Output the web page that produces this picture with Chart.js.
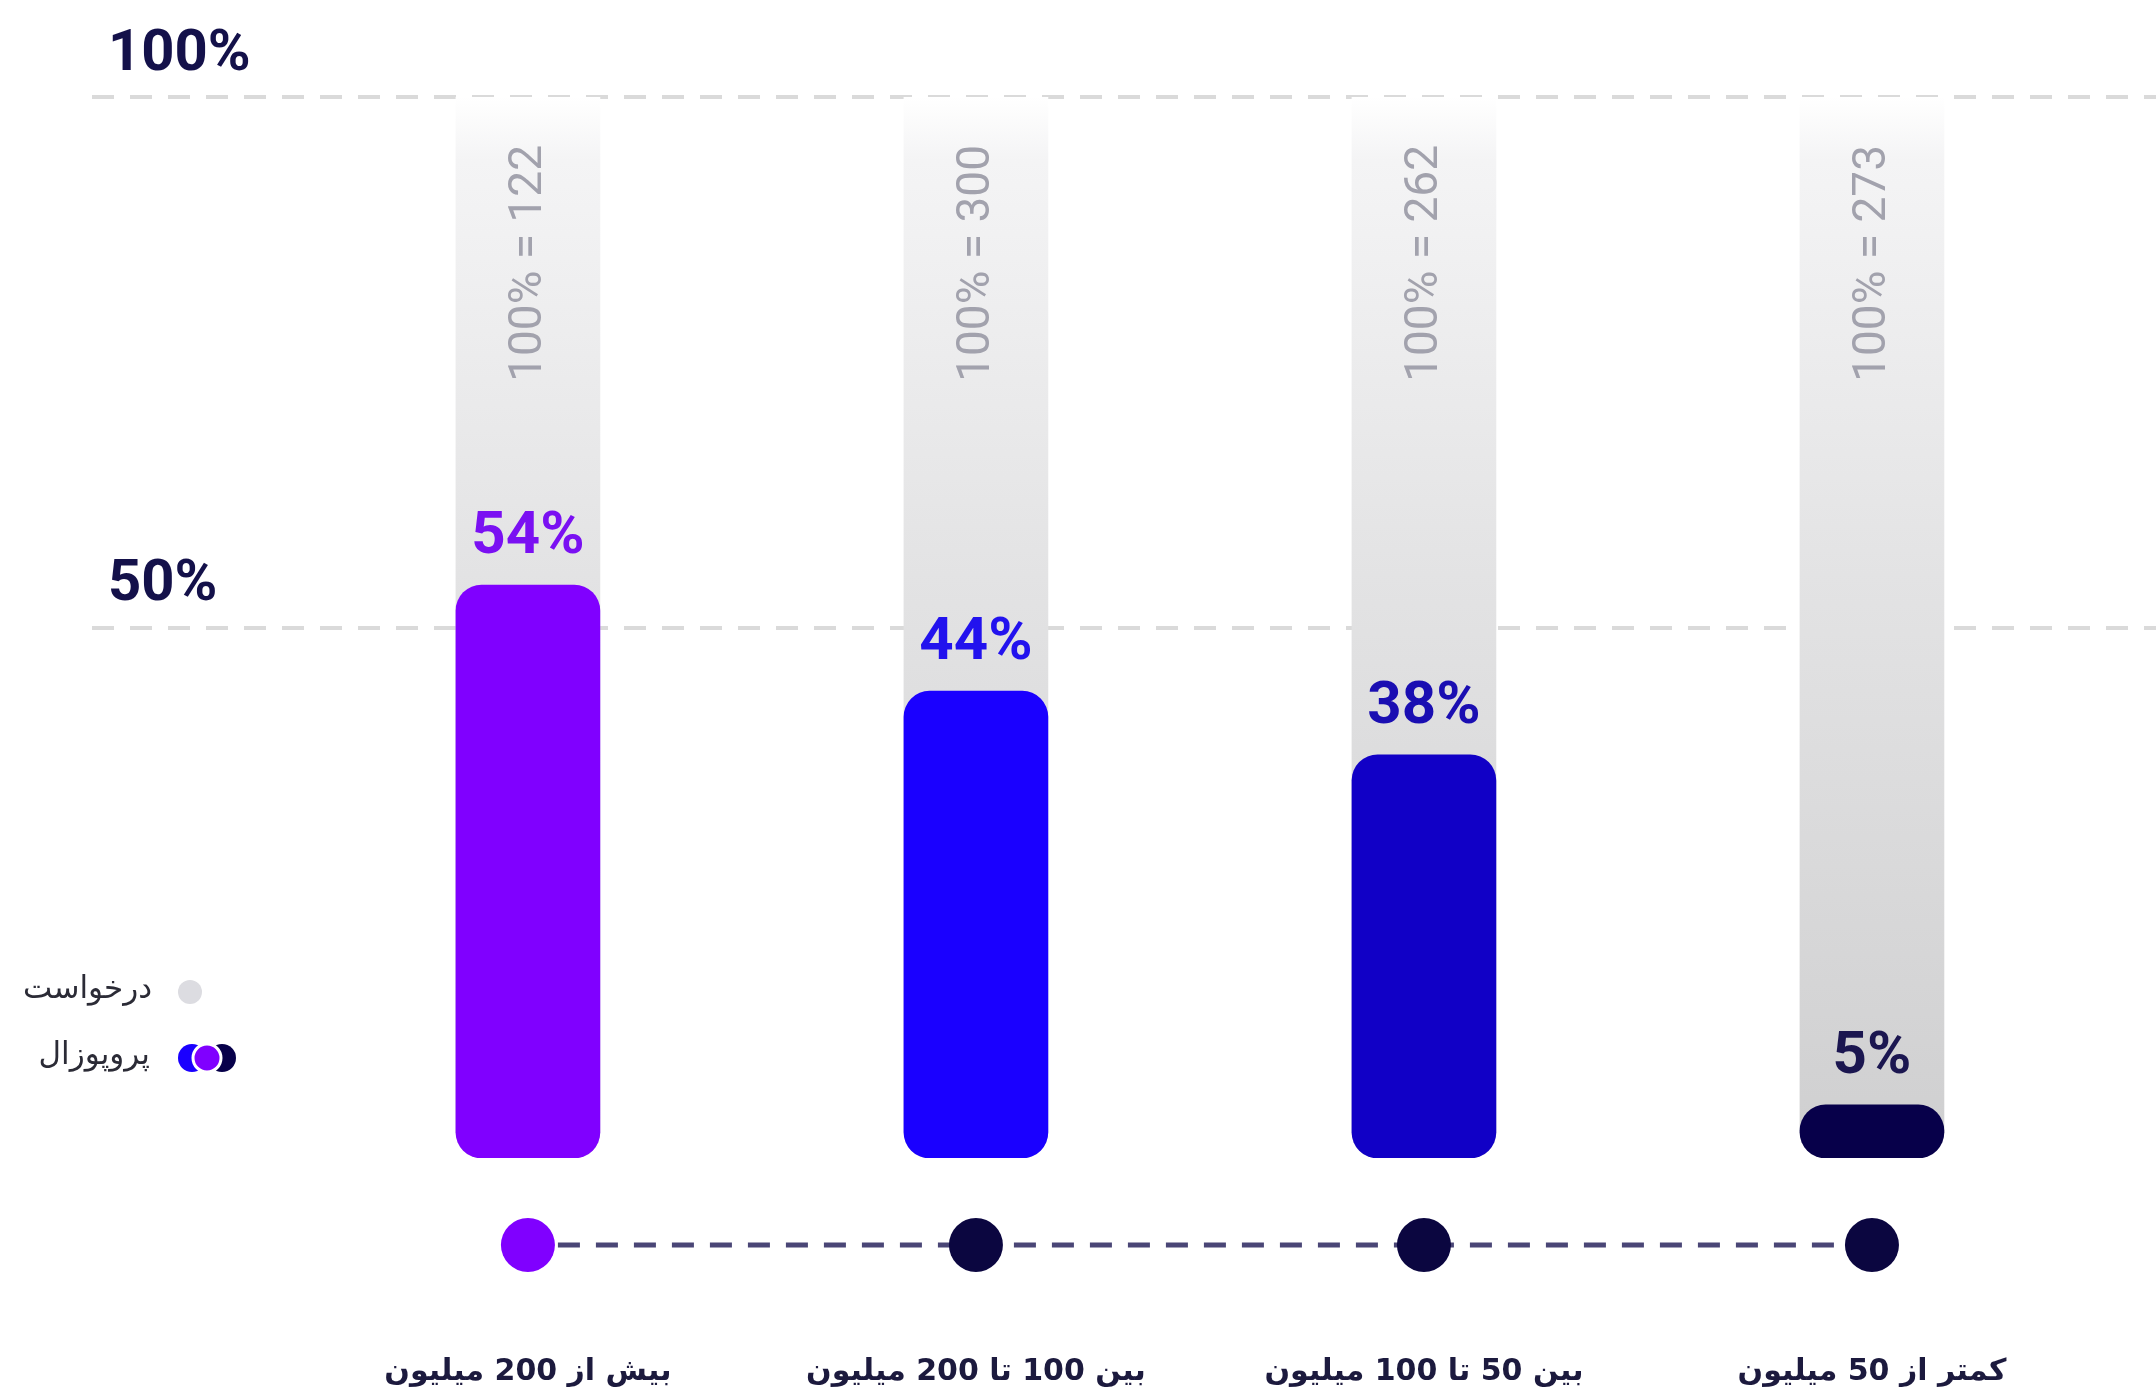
<!DOCTYPE html>
<html>
<head>
<meta charset="utf-8">
<script src="https://cdn.jsdelivr.net/npm/chart.js@4"></script>
<style>
  html, body { margin: 0; padding: 0; background: #ffffff; }
  #wrap { width: 2156px; height: 1391px; position: relative; }
  canvas { display: block; }
</style>
</head>
<body>
<div id="wrap"><canvas id="c" width="2156" height="1391"></canvas></div>
<script>
// ---- data ----
const categories = ['بیش از 200 میلیون', 'بین 100 تا 200 میلیون', 'بین 50 تا 100 میلیون', 'کمتر از 50 میلیون'];
const proposalShare = [54, 44, 38, 5];          // %
const requestShare = [100, 100, 100, 100];      // % (full base)
const requestTotals = [122, 300, 262, 273];     // n at 100%
const yTickValues = [50, 100];
const legendLabels = ['درخواست', 'پروپوزال'];

// ---- styles ----
const barColors = ['#8000ff', '#1a00ff', '#1100c6', '#07004a'];
const labelColors = ['#7a10f2', '#2212ee', '#1a0eb2', '#1b1650'];
const dotColors = { highlight: '#8000ff', normal: '#0b0640' };

function grayGradient(context) {
  const chart = context.chart;
  const area = chart.chartArea;
  if (!area) return '#e0e0e0';
  const g = chart.ctx.createLinearGradient(0, area.top, 0, area.bottom);
  g.addColorStop(0, 'rgba(255,255,255,1)');
  g.addColorStop(0.06, '#f4f4f5');
  g.addColorStop(0.45, '#e3e3e4');
  g.addColorStop(1, '#cfcfd0');
  return g;
}

const overlay = {
  id: 'overlay',
  afterDatasetsDraw(chart) {
    const ctx = chart.ctx;
    const metaBars = chart.getDatasetMeta(0);
    const yScale = chart.scales.y;
    const area = chart.chartArea;

    ctx.save();
    // value labels above bars
    ctx.textAlign = 'center';
    ctx.textBaseline = 'middle';
    ctx.font = 'bold 60px Roboto';
    metaBars.data.forEach((bar, i) => {
      ctx.fillStyle = labelColors[i];
      ctx.fillText(proposalShare[i] + '%', bar.x, bar.y - 47);
    });

    // rotated totals
    ctx.font = '46px Roboto';
    ctx.fillStyle = '#a2a2ad';
    const topY = yScale.getPixelForValue(100) + 48;
    metaBars.data.forEach((bar, i) => {
      ctx.save();
      ctx.translate(bar.x + 2, topY);
      ctx.rotate(-Math.PI / 2);
      ctx.textAlign = 'right';
      ctx.textBaseline = 'middle';
      ctx.fillText('100% = ' + requestTotals[i], 0, 0);
      ctx.restore();
    });

    // timeline
    const ty = area.bottom + 87;
    const xs = metaBars.data.map(b => b.x);
    ctx.strokeStyle = '#4a4676';
    ctx.lineWidth = 5;
    ctx.setLineDash([22, 16]);
    ctx.beginPath();
    ctx.moveTo(xs[0] + 30, ty);
    ctx.lineTo(xs[xs.length - 1], ty);
    ctx.stroke();
    ctx.setLineDash([]);
    const maxIdx = proposalShare.indexOf(Math.max(...proposalShare));
    xs.forEach((x, i) => {
      ctx.beginPath();
      ctx.arc(x, ty, 27, 0, Math.PI * 2);
      ctx.fillStyle = i === maxIdx ? dotColors.highlight : dotColors.normal;
      ctx.fill();
    });

    // legend
    ctx.font = '31px "DejaVu Sans"';
    ctx.textAlign = 'right';
    ctx.textBaseline = 'middle';
    ctx.fillStyle = '#2b2b36';
    ctx.fillText(legendLabels[0], 152, 990);
    ctx.fillText(legendLabels[1], 150, 1056);
    ctx.beginPath();
    ctx.arc(190, 992, 12, 0, Math.PI * 2);
    ctx.fillStyle = '#dcdce1';
    ctx.fill();
    ctx.beginPath();
    ctx.arc(192, 1058, 14, 0, Math.PI * 2);
    ctx.fillStyle = barColors[1];
    ctx.fill();
    ctx.beginPath();
    ctx.arc(222, 1058, 14, 0, Math.PI * 2);
    ctx.fillStyle = barColors[3];
    ctx.fill();
    ctx.beginPath();
    ctx.arc(207, 1058, 14, 0, Math.PI * 2);
    ctx.fillStyle = barColors[0];
    ctx.fill();
    ctx.lineWidth = 3;
    ctx.strokeStyle = '#ffffff';
    ctx.stroke();
    ctx.restore();
  }
};

new Chart(document.getElementById('c'), {
  type: 'bar',
  data: {
    datasets: [
      {
        label: legendLabels[1],
        data: proposalShare.map((v, i) => ({ x: i, y: v })),
        backgroundColor: barColors,
        borderRadius: 26,
        borderSkipped: false,
        barThickness: 144,
        grouped: false,
        order: 0
      },
      {
        label: legendLabels[0],
        data: requestShare.map((v, i) => ({ x: i, y: v })),
        backgroundColor: grayGradient,
        borderRadius: { topLeft: 0, topRight: 0, bottomLeft: 26, bottomRight: 26 },
        borderSkipped: false,
        barThickness: 144,
        grouped: false,
        order: 1
      }
    ]
  },
  options: {
    responsive: false,
    animation: false,
    layout: { padding: { top: 97, left: 92, right: 0, bottom: 0 } },
    plugins: { legend: { display: false }, tooltip: { enabled: false } },
    scales: {
      x: {
        type: 'linear',
        offset: false,
        min: -0.973,
        max: 3.634,
        grid: { display: false },
        border: { display: false },
        afterFit: a => { a.height = 233; a.paddingLeft = 0; a.paddingRight = 0; },
        ticks: {
          stepSize: 1,
          autoSkip: false,
          maxRotation: 0,
          minRotation: 0,
          padding: 188,
          color: '#1c1a3e',
          font: { family: 'DejaVu Sans', size: 30, weight: 'bold' },
          callback: v => (Number.isInteger(v) && categories[v] !== undefined) ? categories[v] : null
        }
      },
      y: {
        min: 0,
        max: 100,
        afterBuildTicks: a => { a.ticks = yTickValues.map(v => ({ value: v })); },
        afterFit: a => { a.width = 0; a.paddingTop = 0; a.paddingBottom = 0; },
        grid: { color: '#dadada', lineWidth: 4, drawTicks: false },
        border: { display: false, dash: [22, 16] },
        ticks: {
          mirror: true,
          padding: 16,
          labelOffset: -42,
          color: '#14114a',
          font: { family: 'Roboto', size: 58, weight: 'bold' },
          callback: v => v + '%'
        }
      }
    }
  },
  plugins: [overlay]
});
</script>
</body>
</html>
